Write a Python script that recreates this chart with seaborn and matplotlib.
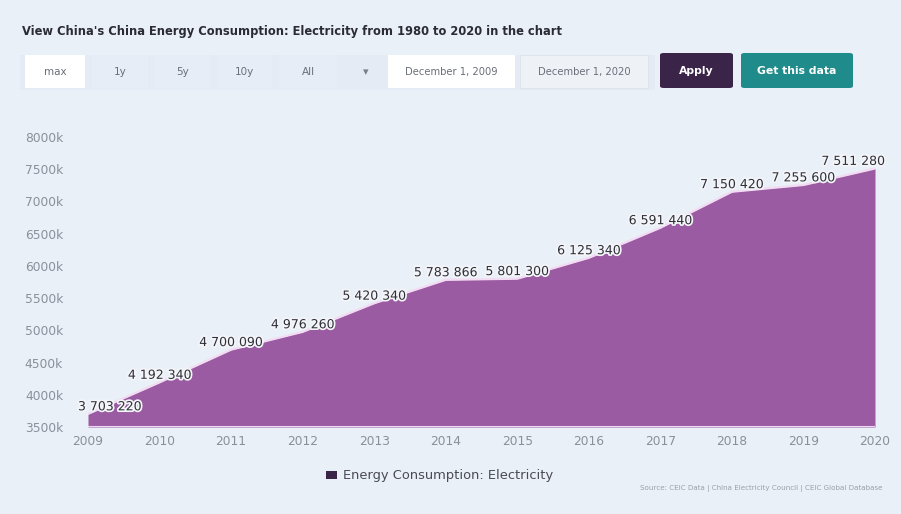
import matplotlib
matplotlib.use("Agg")
import matplotlib.pyplot as plt
import matplotlib.patheffects as pe
from matplotlib.patches import FancyBboxPatch, Rectangle
import seaborn as sns
import pandas as pd

# China energy consumption: electricity (GWh), yearly
years = [2009, 2010, 2011, 2012, 2013, 2014, 2015, 2016, 2017, 2018, 2019, 2020]
consumption = [3703220, 4192340, 4700090, 4976260, 5420340, 5783866,
               5801300, 6125340, 6591440, 7150420, 7255600, 7511280]
y_ticks = [3500000, 4000000, 4500000, 5000000, 5500000, 6000000,
           6500000, 7000000, 7500000, 8000000]
range_buttons = ["max", "1y", "5y", "10y", "All"]
date_from = "December 1, 2009"
date_to = "December 1, 2020"
series_name = "Energy Consumption: Electricity"
title = "View China's China Energy Consumption: Electricity from 1980 to 2020 in the chart"
source = "Source: CEIC Data | China Electricity Council | CEIC Global Database"

df = pd.DataFrame({"year": years, "value": consumption})

sns.set_theme(style="white")
plt.rcParams["font.family"] = ["DejaVu Sans"]

BG = "#eaf0f8"
AREA = "#9a5ba3"

W, H = 901, 514
fig = plt.figure(figsize=(W / 100, H / 100), dpi=100, facecolor=BG)


def fx(px):
    return px / W


def fy(py):
    return 1 - py / H


# title
fig.text(fx(22), fy(32), title, fontsize=8.3, fontweight="bold",
         color="#2b2b35", va="center", ha="left")

# control strip
fig.patches.append(Rectangle((fx(20), fy(90)), fx(635), 35 / H, transform=fig.transFigure,
                             facecolor="#e4ebf4", edgecolor="none", zorder=0))
btn_x = [(25, 85), (92, 148), (155, 210), (217, 272), (279, 337)]
for i, (lbl, (x0, x1)) in enumerate(zip(range_buttons, btn_x)):
    fc = "white" if i == 0 else "#e6edf6"
    fig.patches.append(Rectangle((fx(x0), fy(88)), fx(x1 - x0), 33 / H,
                                 transform=fig.transFigure, facecolor=fc,
                                 edgecolor="none", zorder=1))
    fig.text(fx((x0 + x1) / 2), fy(72), lbl, fontsize=7.5, color="#6b6f7a",
             ha="center", va="center")
fig.text(fx(366), fy(72), "\u25BE", fontsize=8, color="#7b7f8a", ha="center", va="center")
fig.patches.append(Rectangle((fx(388), fy(88)), fx(127), 33 / H, transform=fig.transFigure,
                             facecolor="white", edgecolor="none", zorder=1))
fig.text(fx(451), fy(72), date_from, fontsize=7.2, color="#6b6f7a", ha="center", va="center")
fig.patches.append(Rectangle((fx(520), fy(88)), fx(128), 33 / H, transform=fig.transFigure,
                             facecolor="#eef2f7", edgecolor="#dde3ea", lw=0.6, zorder=1))
fig.text(fx(584), fy(72), date_to, fontsize=7.2, color="#6b6f7a", ha="center", va="center")
for (x0, x1, fc, lbl) in [(660, 733, "#3a2549", "Apply"), (741, 853, "#1f8b8a", "Get this data")]:
    fig.patches.append(FancyBboxPatch((fx(x0), fy(88)), fx(x1 - x0), 35 / H,
                                      boxstyle="round,pad=0,rounding_size=0.004",
                                      transform=fig.transFigure, facecolor=fc,
                                      edgecolor="none", zorder=1))
    fig.text(fx((x0 + x1) / 2), fy(71), lbl, fontsize=7.8, color="white",
             fontweight="bold", ha="center", va="center")

# plot area
ax = fig.add_axes([fx(88), fy(427), fx(875 - 88), (427 - 137) / H])
ax.set_facecolor(BG)
ax.fill_between(df["year"], df["value"], y_ticks[0], color=AREA, lw=0, zorder=1)
sns.lineplot(data=df, x="year", y="value", ax=ax, color="#f3dcf3", lw=1.6, zorder=2)
ax.axhline(y_ticks[0], color="#f0d6f0", lw=1.5, zorder=3)

ax.set_xlim(years[0], years[-1])
ax.set_ylim(y_ticks[0], y_ticks[-1])
ax.set_xticks(years)
ax.set_xticklabels([str(y) for y in years])
ax.set_yticks(y_ticks)
ax.set_yticklabels([f"{v // 1000}k" for v in y_ticks])
ax.tick_params(axis="x", labelsize=8.8, colors="#8a8f99", length=0, pad=6)
ax.tick_params(axis="y", labelsize=8.8, colors="#8a8f99", length=0, pad=18)
for s in ax.spines.values():
    s.set_visible(False)
ax.set_xlabel("")
ax.set_ylabel("")
ax.grid(False)

# value labels above each point
for i, (yr, v) in enumerate(zip(years, consumption)):
    txt = f"{v:,}".replace(",", " ")
    ha = "center"
    dx = 0
    if i == 0:
        ha, dx = "left", -0.14
    elif i == len(years) - 1:
        ha, dx = "right", 0.14
    ax.text(yr + dx, v + 110000, txt, fontsize=9, color="#2f2f3a", ha=ha, va="center",
            zorder=5, path_effects=[pe.withStroke(linewidth=2.5, foreground="#f4f5f8")])

# legend
fig.patches.append(Rectangle((fx(326), fy(479)), fx(11), 8 / H, transform=fig.transFigure,
                             facecolor="#3b2447", edgecolor="none"))
fig.text(fx(343), fy(475), series_name, fontsize=9.4, color="#4a4a55", ha="left", va="center")

# source
fig.text(fx(883), fy(488), source, fontsize=5.1, color="#9aa0aa", ha="right", va="center")

fig.savefig("out.png", dpi=100, facecolor=BG)
